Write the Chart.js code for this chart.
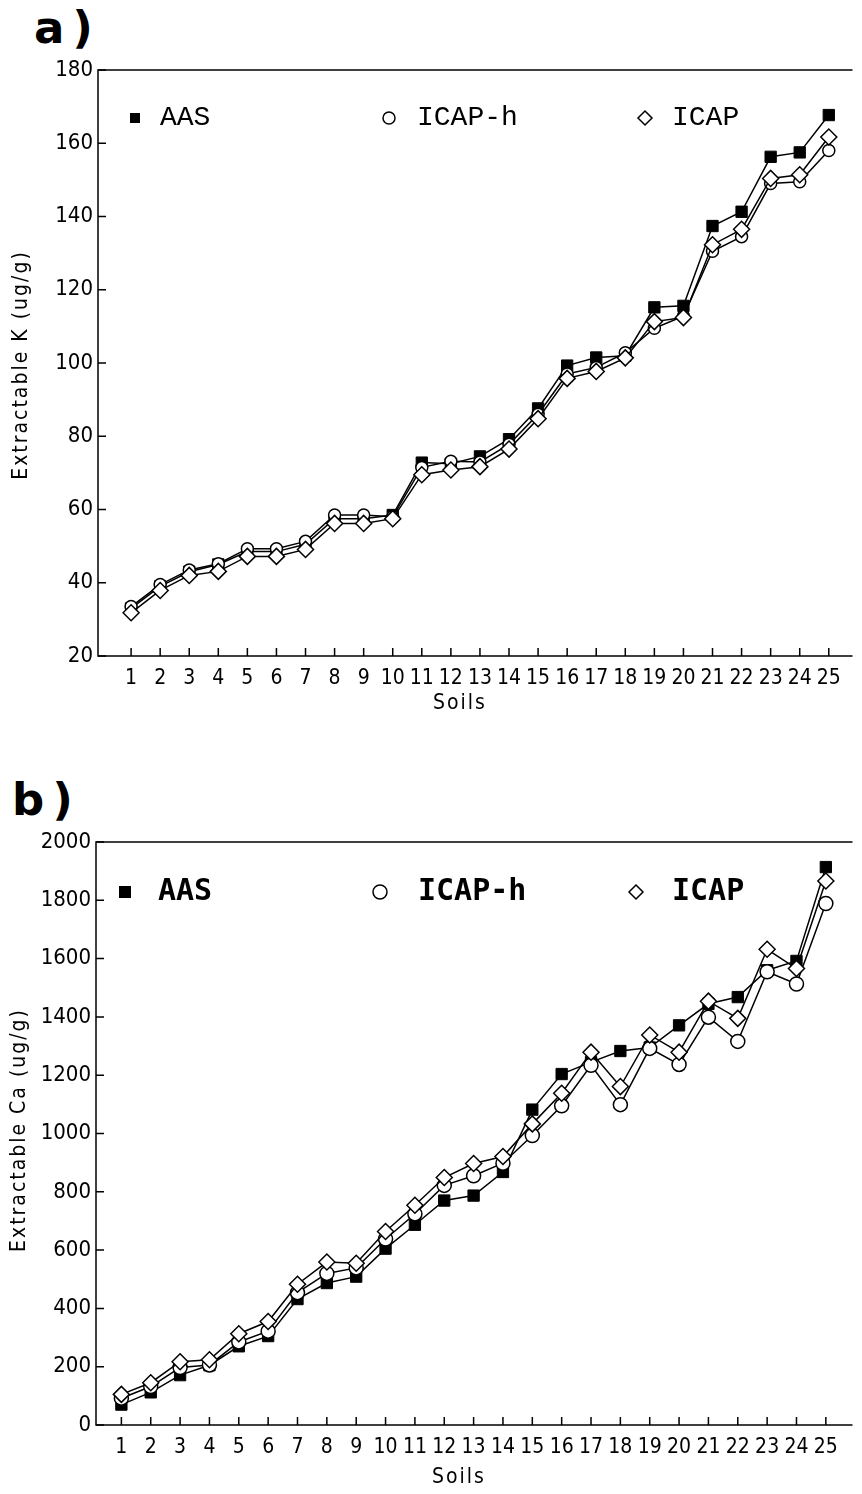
<!DOCTYPE html>
<html>
<head>
<meta charset="utf-8">
<script src="https://cdn.jsdelivr.net/npm/chart.js@4.4.1/dist/chart.umd.min.js"></script>
<style>
  body { margin: 0; background: #fff; }
  #page { position: relative; width: 862px; height: 1494px; overflow: hidden; background: #fff; }
  .panel { position: absolute; left: 0; width: 862px; }
  .tag { position: absolute; font-family: "DejaVu Sans", sans-serif; font-weight: bold; font-size: 45px; line-height: 1; letter-spacing: 8px; color: #000; }
</style>
</head>
<body>
<div id="page">
  <div class="tag" style="left:34px;top:5px">a)</div>
  <div class="panel" style="top:0;height:720px"><canvas id="chartK"></canvas></div>
  <div class="tag" style="left:12px;top:777px">b)</div>
  <div class="panel" style="top:740px;height:754px"><canvas id="chartCa"></canvas></div>
</div>
<script>
const soils = [1, 2, 3, 4, 5, 6, 7, 8, 9, 10, 11, 12, 13, 14, 15, 16, 17, 18, 19, 20, 21, 22, 23, 24, 25];

// a) extractable K (ug/g)
const kAAS   = [33.0, 39.0, 43.0, 45.0, 48.5, 48.5, 50.5, 57.5, 57.5, 58.5, 72.8, 72.5, 74.5, 79.2, 87.6, 99.3, 101.5, 102.0, 115.2, 115.6, 137.4, 141.3, 156.3, 157.5, 167.7];
const kICAPh = [33.5, 39.5, 43.5, 45.2, 49.3, 49.3, 51.3, 58.5, 58.5, 58.0, 71.5, 73.2, 73.0, 77.8, 86.0, 97.0, 98.8, 102.8, 109.5, 112.8, 130.5, 134.5, 149.0, 149.5, 158.0];
const kICAP  = [31.8, 37.9, 42.0, 43.1, 47.2, 47.2, 49.1, 56.2, 56.2, 57.5, 69.5, 70.8, 71.7, 76.5, 84.8, 95.8, 97.7, 101.4, 111.3, 112.4, 132.3, 136.5, 150.4, 151.4, 161.7];
const kTicks = [20, 40, 60, 80, 100, 120, 140, 160, 180];

// b) extractable Ca (ug/g)
const caAAS   = [70, 112, 171, 205, 270, 305, 432, 487, 509, 605, 687, 770, 787, 868, 1082, 1204, 1245, 1283, 1295, 1371, 1445, 1468, 1560, 1592, 1914];
const caICAPh = [92, 132, 197, 206, 285, 322, 454, 520, 539, 638, 724, 822, 855, 898, 993, 1095, 1234, 1099, 1292, 1237, 1399, 1316, 1555, 1513, 1789];
const caICAP  = [105, 145, 217, 224, 313, 355, 483, 559, 555, 664, 754, 849, 897, 921, 1033, 1138, 1279, 1161, 1338, 1279, 1454, 1395, 1632, 1566, 1866];
const caTicks = [0, 200, 400, 600, 800, 1000, 1200, 1400, 1600, 1800, 2000];

const seriesNames = ["AAS", "ICAP-h", "ICAP"];

const narrowFont = '"Liberation Sans Narrow", "DejaVu Sans Condensed", "DejaVu Sans", sans-serif';

const toPoints = vals => vals.map((v, i) => ({ x: soils[i], y: v }));

const drawMarker = (ctx, style, cx, cy, r) => {
  ctx.beginPath();
  if (style === "rect") {
    ctx.fillStyle = "#000";
    ctx.fillRect(cx - r, cy - r, 2 * r, 2 * r);
    return;
  }
  if (style === "circle") {
    ctx.arc(cx, cy, r, 0, Math.PI * 2);
  } else {
    ctx.moveTo(cx, cy - r);
    ctx.lineTo(cx + r, cy);
    ctx.lineTo(cx, cy + r);
    ctx.lineTo(cx - r, cy);
    ctx.closePath();
  }
  ctx.fillStyle = "#fff";
  ctx.fill();
  ctx.strokeStyle = "#000";
  ctx.lineWidth = 1.5;
  ctx.stroke();
};

const framePlugin = {
  id: "frame",
  afterDatasetsDraw(chart, args, opts) {
    const { ctx, chartArea: a, scales: { x, y } } = chart;
    ctx.save();
    ctx.strokeStyle = "#000";
    ctx.lineWidth = 1.5;
    ctx.beginPath();
    ctx.moveTo(a.right, a.top);
    ctx.lineTo(a.left, a.top);
    ctx.lineTo(a.left, a.bottom);
    ctx.lineTo(a.right, a.bottom);
    ctx.stroke();

    // ticks point inward
    ctx.beginPath();
    x.ticks.forEach(t => {
      const px = x.getPixelForValue(t.value);
      ctx.moveTo(px, a.bottom);
      ctx.lineTo(px, a.bottom - 8);
    });
    y.ticks.forEach(t => {
      const py = y.getPixelForValue(t.value);
      ctx.moveTo(a.left, py);
      ctx.lineTo(a.left + 8, py);
    });
    ctx.stroke();

    ctx.fillStyle = "#000";
    ctx.textAlign = "center";
    ctx.textBaseline = "middle";
    ctx.font = opts.titleFont;
    ctx.letterSpacing = "2px";
    ctx.fillText(opts.xTitle, opts.xTitlePos[0], opts.xTitlePos[1]);
    ctx.save();
    ctx.translate(opts.yTitlePos[0], opts.yTitlePos[1]);
    ctx.rotate(-Math.PI / 2);
    ctx.fillText(opts.yTitle, 0, 0);
    ctx.restore();

    // legend inside the plot
    const lg = opts.legend;
    ctx.font = lg.font;
    ctx.letterSpacing = "0px";
    ctx.textAlign = "left";
    lg.items.forEach((it, i) => {
      drawMarker(ctx, it.style, it.x, lg.y, it.r);
      ctx.fillStyle = "#000";
      ctx.fillText(seriesNames[i], it.textX, lg.y);
    });
    ctx.restore();
  }
};

const makeChart = (id, cfg) => new Chart(document.getElementById(id), {
  type: "line",
  data: {
    datasets: [
      { label: seriesNames[2], data: toPoints(cfg.icap), pointStyle: "rectRot", pointRadius: cfg.diamondR,
        backgroundColor: "#fff", borderColor: "#000", borderWidth: 1.5, pointBorderWidth: 1.5, order: 0 },
      { label: seriesNames[1], data: toPoints(cfg.icaph), pointStyle: "circle", pointRadius: cfg.circleR,
        backgroundColor: "#fff", borderColor: "#000", borderWidth: 1.5, pointBorderWidth: 1.5, order: 1 },
      { label: seriesNames[0], data: toPoints(cfg.aas), pointStyle: "rect", pointRadius: cfg.squareR,
        backgroundColor: "#000", borderColor: "#000", borderWidth: 1.5, pointBorderWidth: 1, order: 2 }
    ]
  },
  options: {
    responsive: true,
    maintainAspectRatio: false,
    animation: false,
    layout: { padding: { top: cfg.padTop, right: 0, left: 0, bottom: 0 } },
    plugins: {
      legend: { display: false },
      tooltip: { enabled: false },
      frame: cfg.frame
    },
    scales: {
      x: {
        type: "linear",
        min: cfg.xMin,
        max: cfg.xMax,
        afterBuildTicks: s => { s.ticks = soils.map(v => ({ value: v })); },
        afterFit: s => { s.height = cfg.xAxisH; },
        grid: { display: false, drawTicks: false },
        border: { display: false },
        ticks: { autoSkip: false, maxRotation: 0, padding: cfg.xPad, color: "#000",
          font: { family: narrowFont, size: 21 }, callback: v => String(v) }
      },
      y: {
        min: cfg.yTicks[0],
        max: cfg.yTicks[cfg.yTicks.length - 1],
        afterBuildTicks: s => { s.ticks = cfg.yTicks.map(v => ({ value: v })); },
        afterFit: s => { s.width = cfg.yAxisW; },
        grid: { display: false, drawTicks: false },
        border: { display: false },
        ticks: { padding: 5, color: "#000", font: { family: narrowFont, size: 22 }, callback: v => String(v) }
      }
    }
  },
  plugins: [framePlugin]
});

makeChart("chartK", {
  aas: kAAS, icaph: kICAPh, icap: kICAP, yTicks: kTicks,
  padTop: 70, xAxisH: 64, yAxisW: 98, xPad: 10,
  xMin: 1 - 33.5 / 29.43, xMax: 25 + 24 / 29.43,
  squareR: 8, circleR: 6, diamondR: 8,
  frame: {
    titleFont: "21px " + narrowFont,
    xTitle: "Soils", xTitlePos: [460, 704],
    yTitle: "Extractable K (ug/g)", yTitlePos: [22, 365],
    legend: {
      y: 118, font: "28px \"Liberation Mono\", \"DejaVu Sans Mono\", monospace",
      items: [
        { style: "rect", x: 135, r: 5, textX: 160 },
        { style: "circle", x: 389, r: 6, textX: 417 },
        { style: "diamond", x: 645, r: 7, textX: 672 }
      ]
    }
  }
});

makeChart("chartCa", {
  aas: caAAS, icaph: caICAPh, icap: caICAP, yTicks: caTicks,
  padTop: 102, xAxisH: 69, yAxisW: 96, xPad: 10,
  xMin: 1 - 25.7 / 29.72, xMax: 25 + 27 / 29.72,
  squareR: 8, circleR: 7, diamondR: 8,
  frame: {
    titleFont: "21px " + narrowFont,
    xTitle: "Soils", xTitlePos: [459, 738],
    yTitle: "Extractable Ca (ug/g)", yTitlePos: [20, 390],
    legend: {
      y: 152, font: "bold 30px \"DejaVu Sans Mono\", \"Liberation Mono\", monospace",
      items: [
        { style: "rect", x: 125, r: 6, textX: 158 },
        { style: "circle", x: 380, r: 7, textX: 418 },
        { style: "diamond", x: 636, r: 7, textX: 672 }
      ]
    }
  }
});
</script>
</body>
</html>
